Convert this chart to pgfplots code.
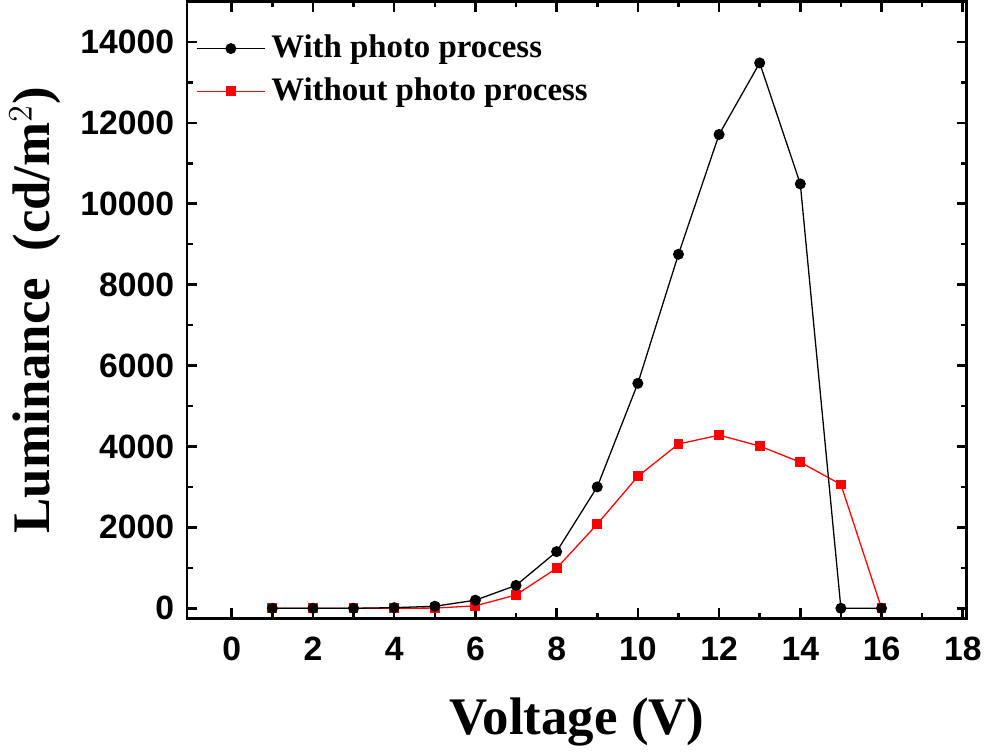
\documentclass[border=0pt]{standalone}
\usepackage{fontspec}
\setmainfont{Liberation Serif}
\newfontfamily\arialfont{Liberation Sans}
\usepackage{pgfplots}
\pgfplotsset{compat=1.18}

\begin{document}
\begin{tikzpicture}
  \begin{axis}[
      scale only axis,
      width=273pt,
      height=216pt,
      xmin=-1.1, xmax=18.1,
      ymin=-250, ymax=15000,
      xtick={0,2,...,18},
      minor xtick={1,3,...,17},
      ytick={0,2000,...,14000},
      minor ytick={1000,3000,...,15000},
      tick align=inside,
      major tick length=3.6pt,
      minor tick length=2pt,
      tick style={line width=0.9pt,black},
      axis line style={line width=1pt},
      scaled y ticks=false,
      /pgf/number format/assume math mode=true,
      /pgf/number format/set thousands separator={},
      tick label style={font=\arialfont\bfseries\fontsize{11.8}{13}\selectfont},
      xticklabel style={yshift=-3pt},
      yticklabel style={xshift=-1pt},
      xlabel={\textbf{Voltage (V)}},
      ylabel={\textbf{Luminance\,\,\,(cd/m$^{2}$)}},
      label style={font=\fontsize{18.5}{20}\selectfont},
      xlabel style={yshift=-6pt},
      ylabel style={yshift=0pt},
      legend style={at={(0.0,0.965)},anchor=north west,draw=none,fill=none,
        font=\bfseries\fontsize{11.5}{13}\selectfont,
        row sep=1.5pt},
      legend cell align=left,
      reverse legend,
      legend image code/.code={%
        \draw[mark repeat=2,mark phase=2,line width=0.4pt]
          plot coordinates {(0cm,0cm) (0.42cm,0cm) (0.84cm,0cm)};},
    ]
    \addplot[color=red,line width=0.45pt,mark=square*,mark size=1.5pt] coordinates {
      (1,0) (2,0) (3,0) (4,0) (5,5) (6,60) (7,330) (8,990)
      (9,2080) (10,3260) (11,4060) (12,4280) (13,4010) (14,3610)
      (15,3060) (16,0)
    };
    \addlegendentry{Without photo process}
    \addplot[color=black,line width=0.45pt,mark=*,mark size=1.7pt] coordinates {
      (1,0) (2,0) (3,0) (4,15) (5,50) (6,200) (7,565) (8,1400)
      (9,3000) (10,5560) (11,8750) (12,11710) (13,13480) (14,10490)
      (15,0) (16,0)
    };
    \addlegendentry{With photo process}
  \end{axis}
\end{tikzpicture}
\end{document}
